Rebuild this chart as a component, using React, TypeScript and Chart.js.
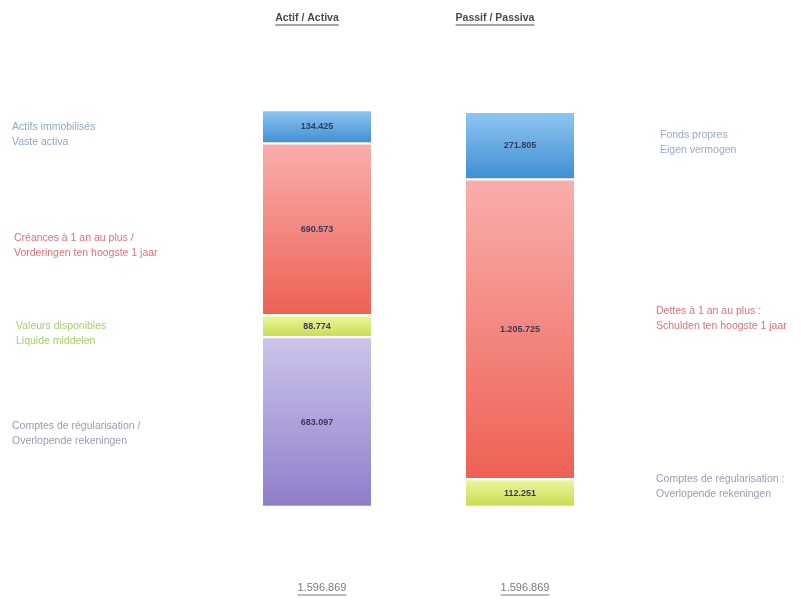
import React, { useEffect, useRef } from "react";
import { Chart, registerables } from "chart.js";

Chart.register(...registerables);

const categories = ["Actif / Activa", "Passif / Passiva"];
const totals = ["1.596.869", "1.596.869"];

// stacked bottom -> top
const segmentNames = [
  ["Comptes de régularisation /", "Overlopende rekeningen"],
  ["Valeurs disponibles", "Liquide middelen"],
  ["Créances à 1 an au plus /", "Vorderingen ten hoogste 1 jaar"],
  ["Actifs immobilisés", "Vaste activa"],
  ["Comptes de régularisation :", "Overlopende rekeningen"],
  ["Dettes à 1 an au plus :", "Schulden ten hoogste 1 jaar"],
  ["Fonds propres", "Eigen vermogen"],
];
const actifValues = [683097, 88774, 690573, 134425, null, null, null];
const passifValues = [null, null, null, null, 112251, 1205725, 271805];

const fills: [string, string][] = [
  ["#cdc5ec", "#8f7dc9"],
  ["#eef6a2", "#c8dc4e"],
  ["#f9aeac", "#ee6154"],
  ["#8fc6f0", "#3f8ed5"],
  ["#eef6a2", "#c8dc4e"],
  ["#f9aeac", "#ee6154"],
  ["#8fc6f0", "#3f8ed5"],
];
const textColors = ["#9a9ab2", "#a6cf6c", "#d9737b", "#8ea9c4", "#9a9ab2", "#d9737b", "#98aac2"];
// label placement (layout only)
const labelPos: [number, number][] = [
  [12, 426],
  [16, 326],
  [14, 238],
  [12, 127],
  [656, 479],
  [656, 311],
  [660, 135],
];

const fmt = (v: number) => v.toString().replace(/\B(?=(\d{3})+(?!\d))/g, ".");

export default function App() {
  const ref = useRef<HTMLCanvasElement | null>(null);
  useEffect(() => {
    if (!ref.current) return;
    const datasets = segmentNames.map((n, i) => ({
      label: n.join(" "),
      data: [actifValues[i], passifValues[i]],
      backgroundColor: (ctx: any) => {
        const chart = ctx.chart;
        const y = chart.scales && chart.scales.y;
        const val = ctx.raw;
        if (!y || ctx.type !== "data" || val == null) return fills[i][0];
        let start = 0;
        for (let d = 0; d < ctx.datasetIndex; d++) {
          const v = chart.data.datasets[d].data[ctx.dataIndex];
          if (v) start += v;
        }
        const top = y.getPixelForValue(start + val);
        const bottom = y.getPixelForValue(start);
        if (!isFinite(top) || !isFinite(bottom)) return fills[i][0];
        const g = chart.ctx.createLinearGradient(0, top, 0, bottom);
        g.addColorStop(0, fills[i][0]);
        g.addColorStop(1, fills[i][1]);
        return g;
      },
      borderColor: "#ffffff",
      borderWidth: { top: 1.5, bottom: 1.5, left: 0, right: 0 },
      borderSkipped: false as any,
      barThickness: 108,
    }));

    const textPlugin = {
      id: "texts",
      afterDatasetsDraw(chart: any) {
        const c = chart.ctx;
        c.save();
        // value labels
        c.textAlign = "center";
        c.textBaseline = "middle";
        c.font = "bold 9px 'Liberation Sans', Arial, sans-serif";
        c.fillStyle = "#3a3a58";
        chart.data.datasets.forEach((ds: any, di: number) => {
          const meta = chart.getDatasetMeta(di);
          meta.data.forEach((el: any, idx: number) => {
            const v = ds.data[idx];
            if (v == null) return;
            c.fillText(fmt(v), el.x, (el.y + el.base) / 2);
          });
        });
        // side labels
        c.textAlign = "left";
        c.textBaseline = "middle";
        c.font = "10.5px 'Liberation Sans', Arial, sans-serif";
        segmentNames.forEach((lines, i) => {
          c.fillStyle = textColors[i];
          lines.forEach((l, k) => c.fillText(l, labelPos[i][0], labelPos[i][1] + k * 15));
        });
        // titles & totals
        const xs = chart.scales.x;
        const underline = (t: string, x: number, y: number, font: string, color: string) => {
          c.font = font;
          c.fillStyle = color;
          c.strokeStyle = color;
          c.textAlign = "center";
          c.textBaseline = "middle";
          c.fillText(t, x, y);
          const w = c.measureText(t).width;
          c.lineWidth = 1;
          c.beginPath();
          c.moveTo(x - w / 2, y + 7);
          c.lineTo(x + w / 2, y + 7);
          c.stroke();
        };
        categories.forEach((cat, i) => {
          const cx = xs.getPixelForValue(i);
          underline(cat, cx - 12 - i * 15 + 2, 18, "bold 10.5px 'Liberation Sans', Arial, sans-serif", "#4a4a4a");
          underline(totals[i], cx + 5, 588, "11px 'Liberation Sans', Arial, sans-serif", "#7a7a7a");
        });
        c.restore();
      },
    };

    const chart = new Chart(ref.current, {
      type: "bar",
      data: { labels: categories, datasets: datasets as any },
      options: {
        animation: false,
        responsive: true,
        maintainAspectRatio: false,
        layout: { padding: { left: 215.5, right: 179.5, top: 110, bottom: 93 } },
        plugins: { legend: { display: false }, tooltip: { enabled: false } },
        scales: {
          x: { stacked: true, display: false, grid: { display: false } },
          y: { stacked: true, display: false, min: 0, max: 1596869, grid: { display: false } },
        },
      },
      plugins: [textPlugin],
    });
    return () => chart.destroy();
  }, []);
  return (
    <div style={{ position: "absolute", left: 0, top: 0, width: 801, height: 600, background: "#fff" }}>
      <canvas ref={ref} />
    </div>
  );
}
